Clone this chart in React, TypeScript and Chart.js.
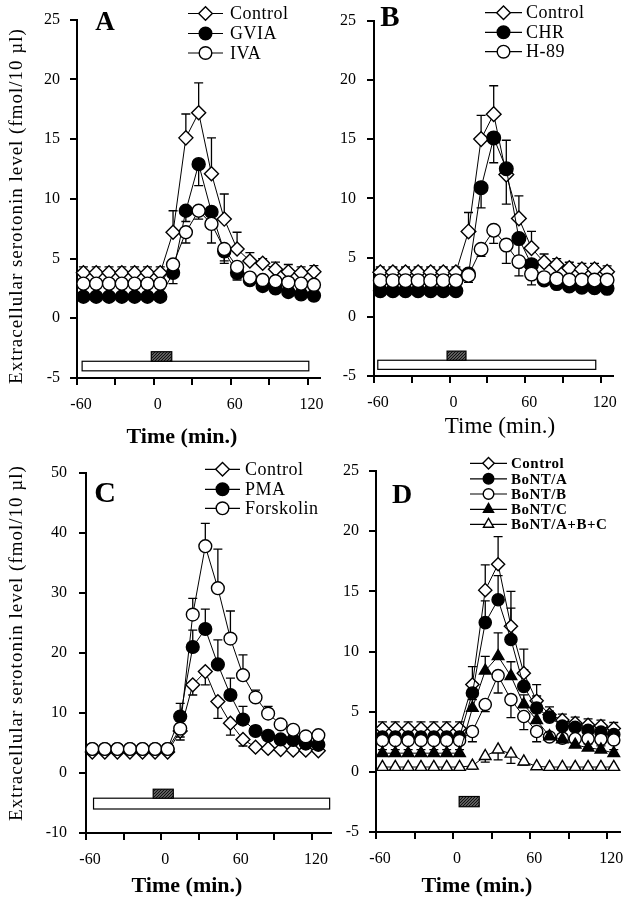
import React, { useEffect, useRef } from 'react';
import { Chart, registerables } from 'chart.js';

Chart.register(...registerables);

// ---------- data ----------
const times = [-55, -45, -35, -25, -15, -5, 5, 15, 25, 35, 45, 55, 65, 75, 85, 95, 105, 115, 125];
const xTickLabels = ['-60', '0', '60', '120'];

// Panel A
const aControl = [3.8, 3.8, 3.8, 3.8, 3.8, 3.8, 3.8, 7.2, 15.1, 17.2, 12.1, 8.3, 5.8, 4.8, 4.6, 4.1, 3.9, 3.8, 3.9];
const aControlErr = [0.5, 0.5, 0.5, 0.5, 0.5, 0.5, 0.5, 1.8, 2.0, 2.5, 3.0, 2.1, 1.4, 0.7, 0.4, 0.6, 0.6, 0.5, 0.5];
const aGVIA = [1.8, 1.8, 1.8, 1.8, 1.8, 1.8, 1.8, 3.8, 9.0, 12.9, 8.9, 5.6, 3.8, 3.2, 2.7, 2.5, 2.2, 2.0, 1.9];
const aGVIAErr = [-0.2, -0.2, -0.2, -0.2, -0.2, -0.2, -0.2, -0.9, -0.9, -1.8, -1.0, -0.8, -0.5, -0.3, -0.3, -0.2, -0.2, -0.2, -0.2];
const aIVA = [2.9, 2.9, 2.9, 2.9, 2.9, 2.9, 2.9, 4.5, 7.2, 9.0, 7.9, 5.8, 4.3, 3.4, 3.2, 3.1, 3.0, 2.9, 2.8];
const aIVAErr = [-0.2, -0.2, -0.2, -0.2, -0.2, -0.2, -0.2, -0.4, -0.9, -0.7, -1.6, -1.2, -1.1, -0.4, -0.3, -0.2, -0.2, -0.2, -0.2];

// Panel B
const bControl = [3.75, 3.75, 3.75, 3.75, 3.75, 3.75, 3.75, 7.2, 15.0, 17.1, 12.0, 8.3, 5.8, 4.6, 4.4, 4.1, 4.0, 4.0, 3.8];
const bControlErr = [0.45, 0.45, 0.45, 0.45, 0.45, 0.45, 0.45, 1.6, 2.0, 2.4, 2.9, 1.9, 1.4, 0.7, 0.5, 0.5, 0.5, 0.5, 0.5];
const bCHR = [2.2, 2.2, 2.2, 2.2, 2.2, 2.2, 2.2, 3.6, 10.9, 15.1, 12.5, 6.6, 4.4, 3.1, 2.8, 2.6, 2.5, 2.45, 2.4];
const bCHRErr = [-0.2, -0.2, -0.2, -0.2, -0.2, -0.2, -0.2, -0.7, -1.7, -2.1, -3.0, -2.1, -0.8, -0.3, -0.2, -0.2, -0.2, -0.2, -0.2];
const bH89 = [3.05, 3.05, 3.05, 3.05, 3.05, 3.05, 3.05, 3.5, 5.7, 7.3, 6.05, 4.65, 3.6, 3.3, 3.2, 3.1, 3.1, 3.1, 3.1];
const bH89Err = [-0.2, -0.2, -0.2, -0.2, -0.2, -0.2, -0.2, -0.4, -0.6, -1.1, -1.55, -1.2, -0.9, -0.3, -0.2, -0.2, -0.2, -0.2, -0.2];

// Panel C
const cControl = [3.5, 3.5, 3.5, 3.5, 3.5, 3.5, 3.5, 7.0, 14.7, 16.9, 11.9, 8.3, 5.6, 4.3, 4.1, 3.9, 3.8, 3.8, 3.7];
const cControlErr = [-0.3, -0.3, -0.3, -0.3, -0.3, -0.3, -0.3, -1.0, -1.7, -2.2, -2.8, -2.0, -1.1, -0.4, -0.3, -0.3, -0.3, -0.3, -0.3];
const cPMA = [4.0, 4.0, 4.0, 4.0, 4.0, 4.0, 4.0, 9.4, 21.0, 24.0, 18.1, 13.0, 8.9, 7.0, 6.2, 5.6, 5.5, 4.9, 4.7];
const cPMAErr = [0.3, 0.3, 0.3, 0.3, 0.3, 0.3, 0.3, 2.2, 2.8, 3.3, 4.1, 2.8, 2.2, 0.8, 0.5, 0.4, 0.4, 0.4, 0.4];
const cForskolin = [4.0, 4.0, 4.0, 4.0, 4.0, 4.0, 4.0, 7.4, 26.4, 37.8, 30.8, 22.4, 16.3, 12.6, 9.9, 8.1, 7.2, 6.1, 6.3];
const cForskolinErr = [0.3, 0.3, 0.3, 0.3, 0.3, 0.3, 0.3, -1.9, 2.7, 3.8, 6.5, 4.6, 3.4, 1.2, 1.2, 0.6, 0.5, 0.5, 0.5];

// Panel D
const dControl = [3.6, 3.6, 3.6, 3.6, 3.6, 3.6, 3.6, 7.25, 15.1, 17.25, 12.1, 8.2, 5.9, 4.75, 4.3, 4.05, 3.9, 3.8, 3.6];
const dControlErr = [0.55, 0.55, 0.55, 0.55, 0.55, 0.55, 0.55, 1.5, 2.1, 2.3, 2.9, 2.0, 1.35, 0.65, 0.5, 0.5, 0.5, 0.5, 0.5];
const dBoNTA = [2.9, 2.9, 2.9, 2.9, 2.9, 2.9, 2.9, 6.55, 12.4, 14.3, 11.0, 7.1, 5.3, 4.55, 3.8, 3.7, 3.45, 3.3, 3.1];
const dBoNTAErr = [0.3, 0.3, 0.3, 0.3, 0.3, 0.3, 0.3, 0.8, 1.8, 2.0, 2.6, 1.4, 1.0, 0.5, 0.4, 0.4, 0.4, 0.4, 0.4];
const dBoNTB = [2.6, 2.6, 2.6, 2.6, 2.6, 2.6, 2.6, 3.35, 5.6, 8.0, 6.0, 4.6, 3.35, 2.9, 2.8, 2.75, 2.75, 2.7, 2.65];
const dBoNTBErr = [-0.3, -0.3, -0.3, -0.3, -0.3, -0.3, -0.3, -0.85, -0.6, -1.45, -1.5, -1.1, -0.85, -0.3, -0.3, -0.3, -0.3, -0.3, -0.3];
const dBoNTC = [1.55, 1.55, 1.55, 1.55, 1.55, 1.55, 1.55, 5.3, 8.4, 9.6, 7.95, 5.6, 4.3, 2.95, 2.7, 2.25, 2.0, 1.85, 1.55];
const dBoNTCErr = [0.3, 0.3, 0.3, 0.3, 0.3, 0.3, 0.3, 0.7, 1.2, 1.95, 1.2, 0.8, 0.6, 0.3, 0.3, 0.3, 0.3, 0.3, 0.3];
const dBoNTABC = [0.4, 0.4, 0.4, 0.4, 0.4, 0.4, 0.4, 0.5, 1.3, 1.85, 1.5, 0.85, 0.45, 0.4, 0.4, 0.4, 0.4, 0.4, 0.4];
const dBoNTABCErr = [-0.2, -0.2, -0.2, -0.2, -0.2, -0.2, -0.2, -0.3, -0.5, -0.85, -0.8, -0.3, -0.2, -0.2, -0.2, -0.2, -0.2, -0.2, -0.2];

// treatment bars: [startTime, endTime, upperValue, lowerValue]
const aOpenBar = [-56, 121, -3.6, -4.4];
const aHatchBar = [-2, 14, -2.8, -3.6];
const bOpenBar = [-57, 116, -3.67, -4.44];
const bHatchBar = [-2, 13, -2.9, -3.67];
const cOpenBar = [-54, 134, -4.2, -6.0];
const cHatchBar = [-6.5, 9.5, -2.7, -4.2];
const dHatchBar = [4.7, 20.3, -2.05, -2.9];

const yTitle = 'Extracellular serotonin level (fmol/10 \u00b5l)';
const xTitle = 'Time (min.)';

// ---------- drawing helpers ----------
const SERIF = "'Liberation Serif', 'Times New Roman', serif";

type Marker = 'diamond' | 'circleFilled' | 'circleOpen' | 'triFilled' | 'triOpen';
interface SeriesDef { label: string; values: number[]; errors: number[]; marker: Marker; }

function markerStyle(m: Marker) {
  switch (m) {
    case 'diamond': return { style: 'rectRot', fill: '#ffffff', k: 1.08 };
    case 'circleFilled': return { style: 'circle', fill: '#000000', k: 1 };
    case 'circleOpen': return { style: 'circle', fill: '#ffffff', k: 1 };
    case 'triFilled': return { style: 'triangle', fill: '#000000', k: 1.1 };
    case 'triOpen': return { style: 'triangle', fill: '#ffffff', k: 1.1 };
  }
}

function drawMarker(ctx: CanvasRenderingContext2D, m: Marker, x: number, y: number, r: number) {
  const s = markerStyle(m);
  const rr = r * s.k;
  ctx.beginPath();
  if (s.style === 'rectRot') {
    ctx.moveTo(x - rr, y); ctx.lineTo(x, y - rr); ctx.lineTo(x + rr, y); ctx.lineTo(x, y + rr); ctx.closePath();
  } else if (s.style === 'circle') {
    ctx.arc(x, y, rr, 0, Math.PI * 2);
  } else {
    const sx = rr * Math.sin(Math.PI * 2 / 3);
    ctx.moveTo(x, y - rr); ctx.lineTo(x + sx, y + rr / 2); ctx.lineTo(x - sx, y + rr / 2); ctx.closePath();
  }
  ctx.fillStyle = s.fill; ctx.fill();
  ctx.lineWidth = 1.4; ctx.strokeStyle = '#000'; ctx.stroke();
}

function makeHatch(ctx: CanvasRenderingContext2D) {
  const c = document.createElement('canvas');
  c.width = 3; c.height = 3;
  const g = c.getContext('2d')!;
  g.fillStyle = '#9a9a9a'; g.fillRect(0, 0, 3, 3);
  g.strokeStyle = '#111'; g.lineWidth = 1.3;
  g.beginPath();
  g.moveTo(0, 3); g.lineTo(3, 0);
  g.moveTo(-1, 1); g.lineTo(1, -1);
  g.moveTo(2, 4); g.lineTo(4, 2);
  g.stroke();
  return ctx.createPattern(c, 'repeat');
}

interface PanelCfg {
  id: string;
  left: number; top: number; width: number; height: number;
  area: { left: number; top: number; right: number; bottom: number };
  xMax: number; yMin: number; yMax: number; yStep: number; yTickPad: number;
  series: SeriesDef[];
  pointR: number;
  letter: string; letterPos: [number, number]; letterFont: string;
  legend: { x0: number; x1: number; tx: number; rows: number[]; font: string; r: number; spacing: string };
  xTitlePos: [number, number]; xTitleFont: string;
  yTitlePos?: [number, number];
  openBar?: number[]; hatchBar: number[];
}

const panels: PanelCfg[] = [
  {
    id: 'A', left: 0, top: 0, width: 330, height: 450,
    area: { left: 77, top: 18, right: 320.8, bottom: 378 },
    xMax: 130, yMin: -5, yMax: 25, yStep: 5, yTickPad: 10,
    series: [
      { label: 'Control', values: aControl, errors: aControlErr, marker: 'diamond' },
      { label: 'GVIA', values: aGVIA, errors: aGVIAErr, marker: 'circleFilled' },
      { label: 'IVA', values: aIVA, errors: aIVAErr, marker: 'circleOpen' },
    ],
    pointR: 6.5,
    letter: 'A', letterPos: [105, 23], letterFont: `bold 27px ${SERIF}`,
    legend: { x0: 188, x1: 223, tx: 230, rows: [13.5, 33.5, 53], font: `18px ${SERIF}`, r: 6.3, spacing: '0.5px' },
    xTitlePos: [182, 437], xTitleFont: `bold 22px ${SERIF}`,
    yTitlePos: [17.5, 206],
    openBar: aOpenBar, hatchBar: aHatchBar,
  },
  {
    id: 'B', left: 330, top: 0, width: 302, height: 450,
    area: { left: 374, top: 17, right: 613.4, bottom: 376 },
    xMax: 130, yMin: -5, yMax: 25, yStep: 5, yTickPad: 11,
    series: [
      { label: 'Control', values: bControl, errors: bControlErr, marker: 'diamond' },
      { label: 'CHR', values: bCHR, errors: bCHRErr, marker: 'circleFilled' },
      { label: 'H-89', values: bH89, errors: bH89Err, marker: 'circleOpen' },
    ],
    pointR: 6.8,
    letter: 'B', letterPos: [390, 19], letterFont: `bold 29px ${SERIF}`,
    legend: { x0: 485, x1: 522, tx: 526, rows: [12.7, 32.3, 51.7], font: `18px ${SERIF}`, r: 6.3, spacing: '0.5px' },
    xTitlePos: [500, 427], xTitleFont: `23px ${SERIF}`,
    openBar: bOpenBar, hatchBar: bHatchBar,
  },
  {
    id: 'C', left: 0, top: 450, width: 340, height: 450,
    area: { left: 86, top: 473, right: 330.9, bottom: 833 },
    xMax: 135, yMin: -10, yMax: 50, yStep: 10, yTickPad: 12,
    series: [
      { label: 'Control', values: cControl, errors: cControlErr, marker: 'diamond' },
      { label: 'PMA', values: cPMA, errors: cPMAErr, marker: 'circleFilled' },
      { label: 'Forskolin', values: cForskolin, errors: cForskolinErr, marker: 'circleOpen' },
    ],
    pointR: 6.4,
    letter: 'C', letterPos: [105, 494], letterFont: `bold 30px ${SERIF}`,
    legend: { x0: 205, x1: 240, tx: 245, rows: [469.3, 489.3, 508.3], font: `18px ${SERIF}`, r: 6.3, spacing: '0.5px' },
    xTitlePos: [187, 886], xTitleFont: `bold 22px ${SERIF}`,
    yTitlePos: [17.5, 643],
    openBar: cOpenBar, hatchBar: cHatchBar,
  },
  {
    id: 'D', left: 330, top: 450, width: 302, height: 450,
    area: { left: 376, top: 471, right: 620.2, bottom: 832 },
    xMax: 130, yMin: -5, yMax: 25, yStep: 5, yTickPad: 10,
    series: [
      { label: 'Control', values: dControl, errors: dControlErr, marker: 'diamond' },
      { label: 'BoNT/A', values: dBoNTA, errors: dBoNTAErr, marker: 'circleFilled' },
      { label: 'BoNT/B', values: dBoNTB, errors: dBoNTBErr, marker: 'circleOpen' },
      { label: 'BoNT/C', values: dBoNTC, errors: dBoNTCErr, marker: 'triFilled' },
      { label: 'BoNT/A+B+C', values: dBoNTABC, errors: dBoNTABCErr, marker: 'triOpen' },
    ],
    pointR: 6.1,
    letter: 'D', letterPos: [402, 496], letterFont: `bold 28px ${SERIF}`,
    legend: { x0: 470, x1: 507, tx: 511, rows: [463.3, 478.8, 494, 509.3, 524.3], font: `bold 15px ${SERIF}`, r: 5.3, spacing: '0.5px' },
    xTitlePos: [477, 886], xTitleFont: `bold 22px ${SERIF}`,
    hatchBar: dHatchBar,
  },
];

function Panel({ cfg }: { cfg: PanelCfg }) {
  const ref = useRef<HTMLCanvasElement>(null);

  useEffect(() => {
    const canvas = ref.current!;
    const ox = cfg.left, oy = cfg.top;

    const errorBars = {
      id: 'errorBars' + cfg.id,
      beforeDatasetsDraw(chart: any) {
        const ctx = chart.ctx as CanvasRenderingContext2D;
        const xs = chart.scales.x, ys = chart.scales.y;
        ctx.save();
        ctx.strokeStyle = '#000'; ctx.lineWidth = 1.3;
        const n = chart.data.datasets.length;
        for (let d = n - 1; d >= 0; d--) {
          const ds: any = chart.data.datasets[d];
          const errs: number[] = ds.errors;
          ds.data.forEach((p: any, i: number) => {
            const e = errs[i];
            if (!e) return;
            const px = xs.getPixelForValue(p.x);
            const y0 = ys.getPixelForValue(p.y);
            const y1 = ys.getPixelForValue(p.y + e);
            ctx.beginPath();
            ctx.moveTo(px, y0); ctx.lineTo(px, y1);
            ctx.moveTo(px - 4.5, y1); ctx.lineTo(px + 4.5, y1);
            ctx.stroke();
          });
        }
        ctx.restore();
      },
    };

    const annotations = {
      id: 'annot' + cfg.id,
      beforeDatasetsDraw(chart: any) {
        const ctx = chart.ctx as CanvasRenderingContext2D;
        const xs = chart.scales.x, ys = chart.scales.y;
        ctx.save();
        const rectOf = (b: number[]) => {
          const x0 = xs.getPixelForValue(b[0]), x1 = xs.getPixelForValue(b[1]);
          const y0 = ys.getPixelForValue(b[2]), y1 = ys.getPixelForValue(b[3]);
          return [x0, y0, x1 - x0, y1 - y0];
        };
        ctx.lineWidth = 1.2; ctx.strokeStyle = '#000';
        if (cfg.openBar) {
          const [x, y, w, h] = rectOf(cfg.openBar);
          ctx.fillStyle = '#fff'; ctx.fillRect(x, y, w, h); ctx.strokeRect(x, y, w, h);
        }
        {
          const [x, y, w, h] = rectOf(cfg.hatchBar);
          const pat = makeHatch(ctx);
          ctx.fillStyle = pat || '#444'; ctx.fillRect(x, y, w, h); ctx.strokeRect(x, y, w, h);
        }
        ctx.restore();
      },
      afterDraw(chart: any) {
        const ctx = chart.ctx as CanvasRenderingContext2D;
        ctx.save();
        ctx.fillStyle = '#000';
        // panel letter
        ctx.font = cfg.letterFont;
        ctx.textAlign = 'center'; ctx.textBaseline = 'middle';
        ctx.fillText(cfg.letter, cfg.letterPos[0] - ox, cfg.letterPos[1] - oy);
        // legend
        const L = cfg.legend;
        cfg.series.forEach((s, i) => {
          const y = L.rows[i] - oy;
          ctx.strokeStyle = '#000'; ctx.lineWidth = 1.2;
          ctx.beginPath(); ctx.moveTo(L.x0 - ox, y); ctx.lineTo(L.x1 - ox, y); ctx.stroke();
          drawMarker(ctx, s.marker, (L.x0 + L.x1) / 2 - ox, y, L.r);
          ctx.fillStyle = '#000';
          ctx.font = L.font;
          (ctx as any).letterSpacing = L.spacing;
          ctx.textAlign = 'left'; ctx.textBaseline = 'middle';
          ctx.fillText(s.label, L.tx - ox, y + 1);
          (ctx as any).letterSpacing = '0px';
        });
        // x title
        ctx.font = cfg.xTitleFont;
        ctx.textAlign = 'center'; ctx.textBaseline = 'middle';
        ctx.fillText(xTitle, cfg.xTitlePos[0] - ox, cfg.xTitlePos[1] - oy);
        // y title
        if (cfg.yTitlePos) {
          ctx.save();
          ctx.translate(cfg.yTitlePos[0] - ox, cfg.yTitlePos[1] - oy);
          ctx.rotate(-Math.PI / 2);
          ctx.font = `19px ${SERIF}`;
          (ctx as any).letterSpacing = '1px';
          ctx.textAlign = 'center'; ctx.textBaseline = 'middle';
          ctx.fillText(yTitle, 0, 0);
          ctx.restore();
        }
        ctx.restore();
      },
    };

    const n = cfg.series.length;
    const datasets = cfg.series.map((s, i) => {
      const ms = markerStyle(s.marker);
      return {
        label: s.label,
        data: times.map((t, j) => ({ x: t, y: s.values[j] })),
        errors: s.errors,
        borderColor: '#000',
        borderWidth: 1,
        pointStyle: ms.style,
        pointRadius: cfg.pointR * ms.k,
        pointBackgroundColor: ms.fill,
        pointBorderColor: '#000',
        pointBorderWidth: 1.4,
        tension: 0,
        fill: false,
        clip: false,
        order: n - i,
      } as any;
    });

    const tickFont = { family: SERIF, size: 16 };
    const chart = new Chart(canvas, {
      type: 'line',
      data: { datasets },
      options: {
        animation: false,
        responsive: false,
        devicePixelRatio: 1,
        events: [],
        layout: {
          padding: {
            left: 0,
            top: cfg.area.top - cfg.top,
            right: cfg.left + cfg.width - cfg.area.right,
            bottom: 0,
          },
        },
        plugins: { legend: { display: false }, tooltip: { enabled: false }, title: { display: false } },
        scales: {
          x: {
            type: 'linear',
            min: -60,
            max: cfg.xMax,
            grid: { display: true, drawOnChartArea: false, drawTicks: true, tickLength: 7, color: '#000', lineWidth: 2 },
            border: { display: true, color: '#000', width: 2 },
            ticks: {
              stepSize: 30,
              includeBounds: false,
              autoSkip: false,
              maxRotation: 0,
              minRotation: 0,
              color: '#000',
              font: tickFont,
              padding: 10,
              labelOffset: 4,
              callback: (v: any) => (xTickLabels.includes(String(v)) ? String(v) : ''),
            },
            afterFit: (s: any) => { s.height = cfg.top + cfg.height - cfg.area.bottom; },
          },
          y: {
            type: 'linear',
            min: cfg.yMin,
            max: cfg.yMax,
            grid: { display: true, drawOnChartArea: false, drawTicks: true, tickLength: 7, color: '#000', lineWidth: 2 },
            border: { display: true, color: '#000', width: 2 },
            ticks: {
              stepSize: cfg.yStep,
              color: '#000',
              font: tickFont,
              padding: cfg.yTickPad,
              callback: (v: any) => String(v),
            },
            afterFit: (s: any) => { s.width = cfg.area.left - cfg.left; },
          },
        },
      } as any,
      plugins: [annotations, errorBars],
    });
    return () => chart.destroy();
  }, []);

  return (
    <canvas
      ref={ref}
      width={cfg.width}
      height={cfg.height}
      style={{ position: 'absolute', left: cfg.left, top: cfg.top, width: cfg.width, height: cfg.height }}
    />
  );
}

export default function App() {
  return (
    <div style={{ position: 'absolute', left: 0, top: 0, width: 632, height: 900, background: '#fff', overflow: 'hidden' }}>
      {panels.map((p) => (
        <Panel key={p.id} cfg={p} />
      ))}
    </div>
  );
}
